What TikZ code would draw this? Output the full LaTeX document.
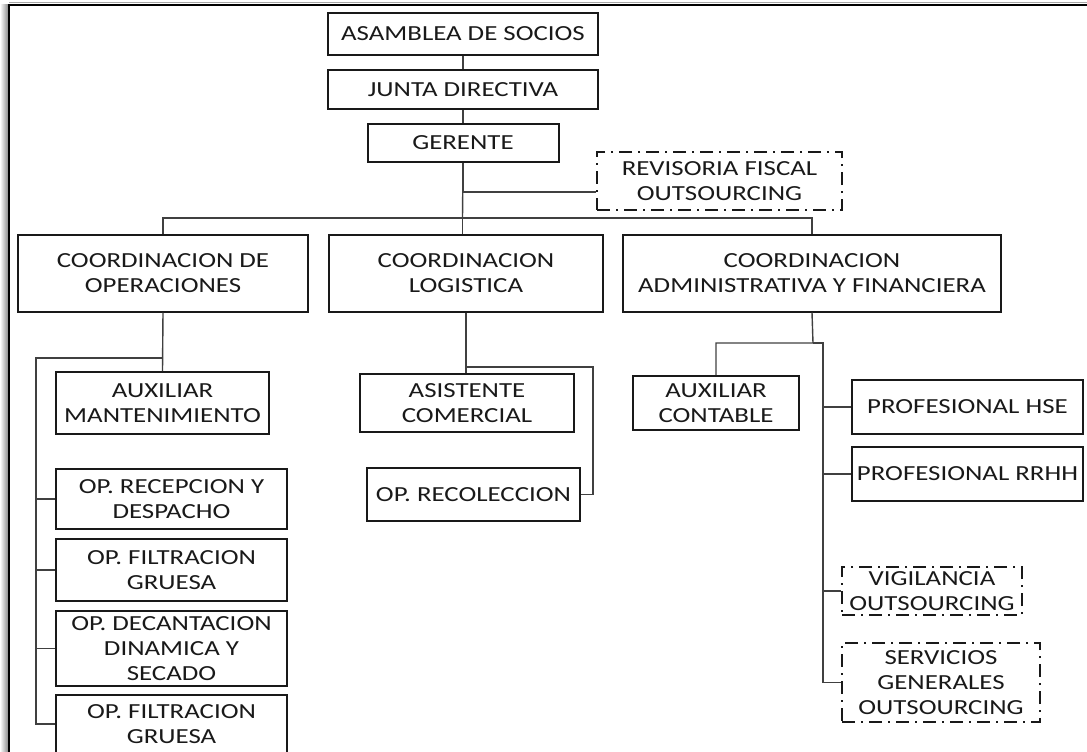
\documentclass[tikz,border=0pt]{standalone}
\usepackage{fontspec}
\setmainfont{Carlito}[FakeStretch=1.25]
\usetikzlibrary{positioning}

\begin{document}
\begin{tikzpicture}[
  x=1pt, y=-1pt,
  font=\fontsize{21.5}{25}\selectfont,
  cargo/.style={rectangle, draw=black!90, line width=2pt, text=black!90, inner sep=0pt, align=center},
  externo/.style={cargo, dash pattern=on 13pt off 6pt on 2pt off 6pt},
  linea/.style={draw=black!75, line width=1.4pt}
]
\useasboundingbox (0,0) rectangle (1087,752);

% Marco
\shade[left color=white, right color=black!45] (0,5) rectangle (8,752);
\draw[black!35, line width=1pt] (9,3) -- (1087,3);
\draw[line width=2.2pt] (9,752) -- (9,5) -- (1087,5);

% Nodes
\node[cargo, minimum width=270, minimum height=42] (asamblea) at (463,34) {ASAMBLEA DE SOCIOS};
\node[cargo, minimum width=270, minimum height=39, below=13pt of asamblea] (junta) {JUNTA DIRECTIVA};
\node[cargo, minimum width=191, minimum height=38, below=13pt of junta] (gerente) {GERENTE};
\node[externo, minimum width=245, minimum height=58] (revisoria) at (719.5,181) {REVISORIA FISCAL\\OUTSOURCING};

\node[cargo, minimum width=290, minimum height=77] (coordOps) at (163,273) {COORDINACION DE\\OPERACIONES};
\node[cargo, minimum width=274, minimum height=77] (coordLog) at (466,273) {COORDINACION\\LOGISTICA};
\node[cargo, minimum width=378, minimum height=77] (coordAdm) at (812,273) {COORDINACION\\ADMINISTRATIVA Y FINANCIERA};

\node[cargo, minimum width=213, minimum height=62] (auxMant) at (162.5,403) {AUXILIAR\\MANTENIMIENTO};
\node[cargo, minimum width=231, minimum height=60] (opRecep) at (171.5,499) {OP. RECEPCION Y\\DESPACHO};
\node[cargo, minimum width=231, minimum height=62, below=8pt of opRecep] (opFiltro) {OP. FILTRACION\\GRUESA};
\node[cargo, minimum width=231, minimum height=75, below=8pt of opFiltro] (opDecant) {OP. DECANTACION\\DINAMICA Y\\SECADO};
\node[cargo, minimum width=231, minimum height=58, below=7pt of opDecant] (opFiltroB) {OP. FILTRACION\\GRUESA};

\node[cargo, minimum width=214, minimum height=58] (asistCom) at (467,403) {ASISTENTE\\COMERCIAL};
\node[cargo, minimum width=213, minimum height=53] (opRecol) at (473.5,494.5) {OP. RECOLECCION};

\node[cargo, minimum width=166, minimum height=54] (auxCont) at (716,403) {AUXILIAR\\CONTABLE};
\node[cargo, minimum width=231, minimum height=54] (profHse) at (967.5,407) {PROFESIONAL HSE};
\node[cargo, minimum width=231, minimum height=54, below=11pt of profHse] (profRrhh) {PROFESIONAL RRHH};
\node[externo, minimum width=180, minimum height=48] (vigilancia) at (932,591) {VIGILANCIA\\OUTSOURCING};
\node[externo, minimum width=198, minimum height=79] (servicios) at (941,682.5) {SERVICIOS\\GENERALES\\OUTSOURCING};

% Puntos de quiebre
\coordinate (rama) at (462.5,218);
\coordinate (opsRama) at (162.5,358);
\coordinate (opsEje) at (36,358);
\coordinate (logCodo) at (593,367);
\coordinate (admRama) at (813,343);
\coordinate (admEje) at (823,343);

% Conexiones
\draw[linea] (asamblea) -- (junta);
\draw[linea] (junta) -- (gerente);
\draw[linea] (gerente.south) -- (rama);
\draw[linea] ([yshift=-11pt]revisoria.west) -| (gerente.south);
\draw[linea] (coordOps.north) |- (rama) -| (coordAdm.north);
\draw[linea] (rama) -- (rama |- coordLog.north);

\draw[linea] (coordOps.south) -- (auxMant.north);
\draw[linea] (opsRama) -- (opsEje) |- (opFiltroB.west);
\foreach \n in {opRecep, opFiltro, opDecant}
  \draw[linea] (opsEje |- \n.west) -- (\n.west);

\draw[linea] (coordLog.south) -- (coordLog.south |- asistCom.north);
\draw[linea] (coordLog.south |- logCodo) -- (logCodo) |- (opRecol.east);

\draw[linea] (coordAdm.south) -- (admRama) -| (auxCont.north);
\draw[linea] (admRama) -- (admEje) |- (servicios.west);
\foreach \n in {profHse, profRrhh, vigilancia}
  \draw[linea] (admEje |- \n.west) -- (\n.west);

\end{tikzpicture}
\end{document}
